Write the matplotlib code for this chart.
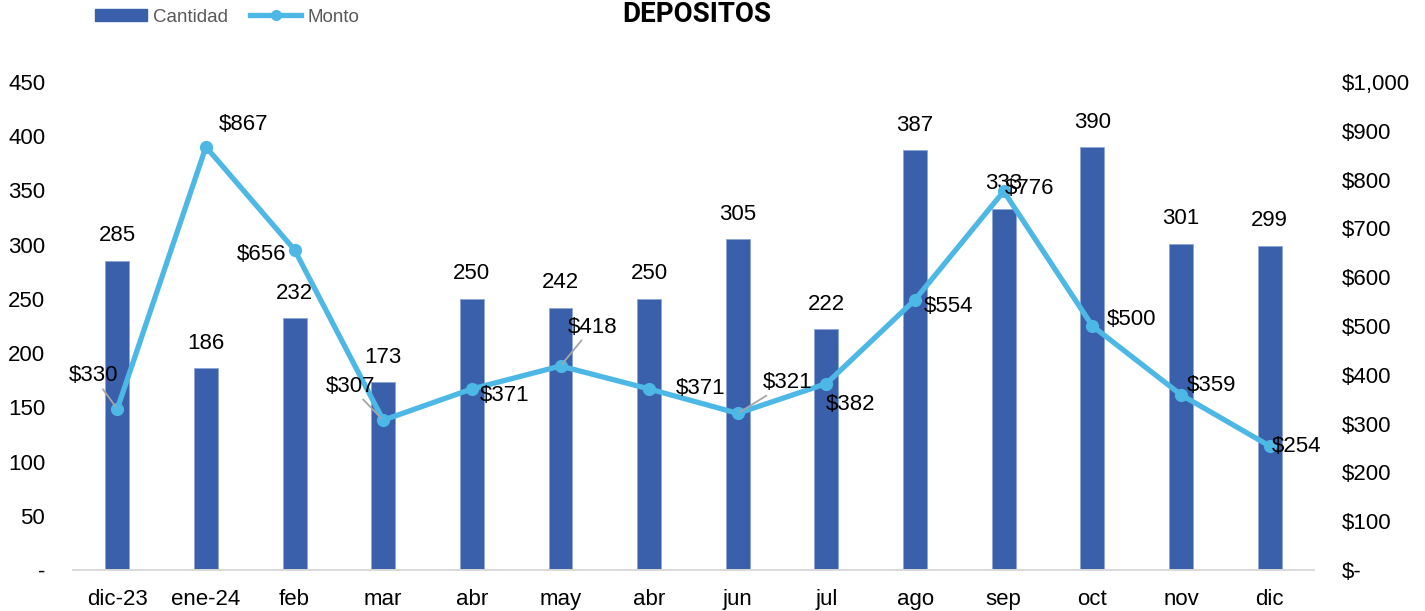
import matplotlib
matplotlib.use("Agg")
import matplotlib.pyplot as plt
from matplotlib.ticker import FuncFormatter
from matplotlib.patches import Patch
from matplotlib.lines import Line2D

categories = ["dic-23", "ene-24", "feb", "mar", "abr", "may", "abr", "jun", "jul", "ago", "sep", "oct", "nov", "dic"]
cantidad = [285, 186, 232, 173, 250, 242, 250, 305, 222, 387, 333, 390, 301, 299]
monto = [330, 867, 656, 307, 371, 418, 371, 321, 382, 554, 776, 500, 359, 254]

# label offsets in pixels (style only)
monto_offsets = [(-24, 33), (38, 22), (-33, -5), (-33, 34), (33, -7), (32, 39), (51, 0),
                 (50, 31), (24, -21), (33, -7), (26, 3), (39, 6), (30, 9), (27, 0)]
leaders = {0, 3, 5, 7}

plt.rcParams['font.family'] = ['Liberation Sans', 'DejaVu Sans']

fig = plt.figure(figsize=(14.25, 6.11), dpi=100)
ax = fig.add_axes([0.0512, 0.0671, 0.8709, 0.7987])
ax2 = ax.twinx()

x = list(range(len(categories)))
bar_color = "#3a5fab"
line_color = "#4db8e5"
FS = 16

ax.bar(x, cantidad, width=0.27, color=bar_color, edgecolor="#8ea6d6", linewidth=0.6, zorder=2)
ax.set_xlim(-0.5, len(categories) - 0.5)
ax.set_ylim(0, 450)
ax.set_yticks(range(0, 451, 50))
ax.yaxis.set_major_formatter(FuncFormatter(lambda v, p: "-" if v == 0 else f"{int(v)}"))
ax.set_xticks(x)
ax.set_xticklabels(categories)

for xi, v in zip(x, cantidad):
    ax.annotate(f"{v}", (xi, v), xytext=(0, 25), textcoords="offset pixels",
                ha="center", va="center", fontsize=FS, color="black", zorder=5)

ax2.plot(x, monto, color=line_color, linewidth=3.8, marker="o", markersize=8.5,
         markerfacecolor=line_color, markeredgecolor=line_color, zorder=4, solid_capstyle="round")
ax2.set_ylim(0, 1000)
ax2.set_yticks(range(0, 1001, 100))
ax2.yaxis.set_major_formatter(FuncFormatter(lambda v, p: "$-" if v == 0 else f"${int(v):,}"))

for i, (xi, v) in enumerate(zip(x, monto)):
    dx, dy = monto_offsets[i]
    kw = {}
    if i in leaders:
        kw["arrowprops"] = dict(arrowstyle="-", color="#a6a6a6", lw=1.3, shrinkA=0, shrinkB=2)
    ax2.annotate(f"${v}", (xi, v), xytext=(dx, dy), textcoords="offset pixels",
                 ha="center", va="center", fontsize=FS, color="black", zorder=6, **kw)

for a in (ax, ax2):
    for s in ("top", "left", "right"):
        a.spines[s].set_visible(False)
    a.spines["bottom"].set_color("#d9d9d9")
    a.spines["bottom"].set_linewidth(1.2)
    a.tick_params(length=0, labelsize=FS, colors="black")

ax.tick_params(axis="y", pad=20)
ax.tick_params(axis="x", pad=14)
ax2.tick_params(axis="y", pad=20)
for lbl in ax2.get_yticklabels():
    lbl.set_ha("left")

ax2.set_zorder(ax.get_zorder() + 1)
ax2.patch.set_visible(False)

fig.text(0.489, 0.977, "DEPOSITOS", ha="center", va="center", fontsize=20, fontweight="bold",
         family=["Roboto", "DejaVu Sans"])

handles = [Patch(facecolor=bar_color, edgecolor=bar_color),
           Line2D([0], [0], color=line_color, lw=3.8, marker="o", markersize=7)]
leg = fig.legend(handles, ["Cantidad", "Monto"], loc="center left", bbox_to_anchor=(0.0667, 0.972),
                 ncol=2, frameon=False, fontsize=13.5, handlelength=2.75, handleheight=0.6,
                 columnspacing=1.15, handletextpad=0.35, labelcolor="#595959", borderpad=0,
                 borderaxespad=0)

fig.savefig("out.png", dpi=100)
